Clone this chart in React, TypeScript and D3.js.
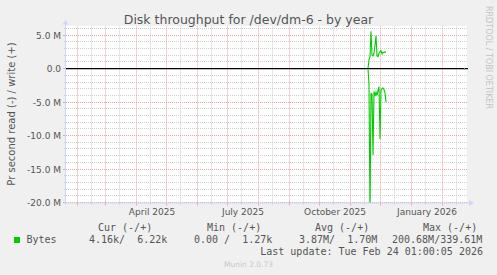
import React from 'react';
import * as d3 from 'd3';

const W = 497;
const H = 275;

const title = 'Disk throughput for /dev/dm-6 - by year';
const yAxisLabel = 'Pr second read (-) / write (+)';
const vendorLabel = 'RRDTOOL / TOBI OETIKER';
const footer = 'Munin 2.0.73';

const yMajorTicks = [5, 0, -5, -10, -15, -20];
const yTickLabels = ['5.0 M', '0.0', '-5.0 M', '-10.0 M', '-15.0 M', '-20.0 M'];
const xLabels = ['April 2025', 'July 2025', 'October 2025', 'January 2026'];
const xLabelDates = ['2025-04-16', '2025-07-16', '2025-10-16', '2026-01-16'];

const rangeStart = '2025-01-20T01:00:00Z';
const rangeEnd = '2026-02-24T01:00:00Z';

// daily averages (MB/s); null breaks the line
const dates = [
  '2025-11-18', '2025-11-19', '2025-11-20', '2025-11-21', '2025-11-22', '2025-11-23',
  '2025-11-24', '2025-11-25', '2025-11-26', '2025-11-27', '2025-11-28', '2025-11-29',
  '2025-11-30', '2025-12-01', '2025-12-02', '2025-12-03', '2025-12-04', '2025-12-05',
  '2025-12-06', '2025-12-07', '2026-02-22', '2026-02-23',
];
const writeValues = [
  0.06, 1.3, 1.8, 5.6, 2.0, 1.9, 2.3, 3.5, 4.9, 1.9, 1.8, 2.3, 2.5, 2.7, 2.2, 2.45, 2.4, 2.5,
  2.45, null, 0.0062, 0.0062,
];
const readValues = [
  0.05, 2.3, 22, 3.7, 3.8, 12.9, 3.4, 4.1, 3.5, 4.0, 3.3, 2.7, 10.5, 3.2, 3.0, 2.9, 3.1, 3.6,
  5.0, null, 0.0042, 0.0042,
];

const legendHeaders = ['Cur (-/+)', 'Min (-/+)', 'Avg (-/+)', 'Max (-/+)'];
const legendName = 'Bytes';
const legendValues = ['4.16k/  6.22k', '0.00 /  1.27k', '3.87M/  1.70M', '200.68M/339.61M'];
const lastUpdate = 'Last update: Tue Feb 24 01:00:05 2026';

const SANS = 'DejaVu Sans, sans-serif';
const MONO = 'DejaVu Sans Mono, monospace';
const FONT_COLOR = '#555';
const AXIS_COLOR = '#cfd6f8';
const GREEN = '#00cc00';
const MINOR = '#cfcfcf';
const MAJOR = '#eaa4a4';

const parseDay = (s: string) => new Date(s + 'T01:00:00Z');

export default function App() {
  const left = 66;
  const right = 466;
  const top = 26.5;
  const bottom = 202.5;

  const x = d3.scaleTime().domain([new Date(rangeStart), new Date(rangeEnd)]).range([left, right]);
  const y = d3.scaleLinear().domain([-20, 6.3]).range([bottom, top]);
  const snap = (v: number) => Math.floor(v) + 0.5;

  const monthStarts = d3.utcMonth.range(new Date(rangeStart), new Date(rangeEnd));
  const midMonths = monthStarts
    .map((d) => new Date(Date.UTC(d.getUTCFullYear(), d.getUTCMonth(), 15)))
    .filter((d) => d > new Date(rangeStart) && d < new Date(rangeEnd));
  const minorY = d3.range(-20, 7).filter((v) => v % 5 !== 0);

  const pts = dates.map((d, i) => ({ t: parseDay(d), w: writeValues[i], r: readValues[i] }));
  const writeLine = d3
    .line<any>()
    .defined((p) => p.w !== null)
    .x((p) => x(p.t))
    .y((p) => y(p.w));
  const readLine = d3
    .line<any>()
    .defined((p) => p.r !== null)
    .x((p) => x(p.t))
    .y((p) => y(-p.r));

  const legendHeaderX = [98, 207, 315, 423];
  const legendValueX = [89, 194, 299, 392];

  return (
    <svg
      width={W}
      height={H}
      style={{ position: 'absolute', left: 0, top: 0 }}
      xmlns="http://www.w3.org/2000/svg"
    >
      <defs>
        <clipPath id="plotclip">
          <rect x={left} y={top - 1} width={right - left + 1} height={bottom - top + 1.5} />
        </clipPath>
      </defs>
      <rect x={0} y={0} width={W} height={H} fill="#f0f0f0" />
      <rect x={left} y={top - 0.5} width={right - left + 1} height={bottom - top + 0.5} fill="#ffffff" />

      {/* minor grid */}
      {minorY.map((v) => (
        <line key={'my' + v} x1={left} x2={right + 1} y1={snap(y(v))} y2={snap(y(v))} stroke={MINOR} strokeDasharray="1,1" />
      ))}
      {midMonths.map((d, i) => (
        <line key={'mx' + i} x1={snap(x(d))} x2={snap(x(d))} y1={top} y2={bottom} stroke={MINOR} strokeDasharray="1,1" />
      ))}
      {/* major grid */}
      {yMajorTicks.map((v) => (
        <line key={'My' + v} x1={left} x2={right + 1} y1={snap(y(v))} y2={snap(y(v))} stroke={MAJOR} strokeDasharray="1,1" />
      ))}
      {monthStarts
        .filter((d) => d > new Date(rangeStart))
        .map((d, i) => (
          <line key={'Mx' + i} x1={snap(x(d))} x2={snap(x(d))} y1={top} y2={bottom} stroke={MAJOR} strokeDasharray="1,1" />
        ))}

      {/* ticks */}
      {monthStarts
        .filter((d) => d > new Date(rangeStart))
        .map((d, i) => (
          <line key={'tx' + i} x1={snap(x(d))} x2={snap(x(d))} y1={bottom - 1} y2={bottom + 3} stroke={MAJOR} />
        ))}
      {midMonths.map((d, i) => (
        <line key={'tmx' + i} x1={snap(x(d))} x2={snap(x(d))} y1={bottom - 1} y2={bottom + 2} stroke={MINOR} />
      ))}
      {yMajorTicks.map((v) => (
        <line key={'ty' + v} x1={left - 3} x2={left + 1} y1={snap(y(v))} y2={snap(y(v))} stroke={MAJOR} />
      ))}
      {minorY.map((v) => (
        <line key={'tmy' + v} x1={left - 2} x2={left + 1} y1={snap(y(v))} y2={snap(y(v))} stroke={MINOR} />
      ))}

      {/* zero line */}
      <line x1={left} x2={right + 2} y1={y(0)} y2={y(0)} stroke="#000" strokeWidth={1.2} />

      {/* data */}
      <g clipPath="url(#plotclip)">
        <path d={readLine(pts) || ''} fill="none" stroke={GREEN} strokeWidth={1.1} />
        <path d={writeLine(pts) || ''} fill="none" stroke={GREEN} strokeWidth={1.1} />
      </g>

      {/* axes */}
      <line x1={left - 0.5} x2={left - 0.5} y1={bottom + 2} y2={top - 3} stroke={AXIS_COLOR} />
      <path d={`M${left - 3.5},${top - 2} L${left - 0.5},${top - 6.5} L${left + 2.5},${top - 2} Z`} fill={AXIS_COLOR} />
      <line x1={left - 2} x2={right + 5} y1={bottom + 0.5} y2={bottom + 0.5} stroke={AXIS_COLOR} />
      <path d={`M${right + 3},${bottom - 2.5} L${right + 8},${bottom + 0.5} L${right + 3},${bottom + 3.5} Z`} fill={AXIS_COLOR} />

      {/* title */}
      <text x={248.5} y={24} textAnchor="middle" fontFamily={SANS} fontSize={12.5} fill={FONT_COLOR}>
        {title}
      </text>

      {/* y tick labels */}
      {yMajorTicks.map((v, i) => (
        <text key={'yl' + v} x={61} y={y(v) + 3.5} textAnchor="end" fontFamily={SANS} fontSize={9} fill={FONT_COLOR}>
          {yTickLabels[i]}
        </text>
      ))}

      {/* x labels */}
      {xLabelDates.map((d, i) => (
        <text key={'xl' + i} x={x(parseDay(d))} y={215} textAnchor="middle" fontFamily={SANS} fontSize={9} fill={FONT_COLOR}>
          {xLabels[i]}
        </text>
      ))}

      {/* y axis title */}
      <text
        transform={`translate(15,${114}) rotate(-90)`}
        textAnchor="middle"
        fontFamily={SANS}
        fontSize={10}
        fill={FONT_COLOR}
      >
        {yAxisLabel}
      </text>

      {/* vendor */}
      <text
        transform={`translate(485.5,6) rotate(90)`}
        textAnchor="start"
        fontFamily={SANS}
        fontSize={8}
        fill="#c4c4c4"
      >
        {vendorLabel}
      </text>

      {/* legend */}
      {legendHeaders.map((h, i) => (
        <text key={'lh' + i} x={legendHeaderX[i]} y={231} fontFamily={MONO} fontSize={10} fill={FONT_COLOR} style={{ whiteSpace: 'pre' }}>
          {h}
        </text>
      ))}
      <rect x={14} y={237} width={6} height={6} fill={GREEN} />
      <text x={26.5} y={243} fontFamily={MONO} fontSize={10} fill={FONT_COLOR}>
        {legendName}
      </text>
      {legendValues.map((v, i) => (
        <text key={'lv' + i} x={legendValueX[i]} y={243} fontFamily={MONO} fontSize={10} fill={FONT_COLOR} style={{ whiteSpace: 'pre' }}>
          {v}
        </text>
      ))}
      <text x={483} y={255} textAnchor="end" fontFamily={MONO} fontSize={10} fill={FONT_COLOR} style={{ whiteSpace: 'pre' }}>
        {lastUpdate}
      </text>
      <text x={248.5} y={267} textAnchor="middle" fontFamily={SANS} fontSize={7.5} fill="#c8c8c8">
        {footer}
      </text>
    </svg>
  );
}
